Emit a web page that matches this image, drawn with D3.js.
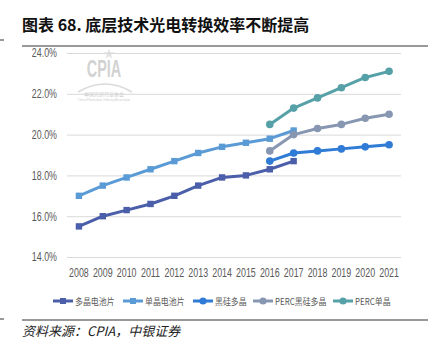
<!DOCTYPE html>
<html>
<head>
<meta charset="utf-8">
<script src="https://cdn.jsdelivr.net/npm/d3@7"></script>
<style>
  body { margin: 0; background: #fff; }
  svg text { font-family: "Liberation Sans", sans-serif; }
</style>
</head>
<body>
<div id="chart"></div>
<script>
// chart data
var years = ["2008","2009","2010","2011","2012","2013","2014","2015","2016","2017","2018","2019","2020","2021"];
var polyCell = [15.5, 16.0, 16.3, 16.6, 17.0, 17.5, 17.9, 18.0, 18.3, 18.7, null, null, null, null];
var monoCell = [17.0, 17.5, 17.9, 18.3, 18.7, 19.1, 19.4, 19.6, 19.8, 20.2, null, null, null, null];
var blackSiPoly = [null, null, null, null, null, null, null, null, 18.7, 19.1, 19.2, 19.3, 19.4, 19.5];
var percBlackSi = [null, null, null, null, null, null, null, null, 19.2, 20.0, 20.3, 20.5, 20.8, 21.0];
var percMono = [null, null, null, null, null, null, null, null, 20.5, 21.3, 21.8, 22.3, 22.8, 23.1];
var seriesNames = ["多晶电池片", "单晶电池片", "黑硅多晶", "PERC黑硅多晶", "PERC单晶"];
var yTicks = [14, 16, 18, 20, 22, 24];

var series = [
    { name: seriesNames[0], values: polyCell, color: "#4a5ea9", marker: "square" },
    { name: seriesNames[1], values: monoCell, color: "#5b9bd5", marker: "square" },
    { name: seriesNames[2], values: blackSiPoly, color: "#2f7bd6", marker: "circle" },
    { name: seriesNames[3], values: percBlackSi, color: "#8797b2", marker: "circle" },
    { name: seriesNames[4], values: percMono, color: "#56a1a8", marker: "circle" }
];

var width = 441, height = 351;
var plot = { left: 67, right: 401, top: 53, bottom: 257 };
var squeeze = 0.74; // narrow axis font

var svg = d3.select("#chart").append("svg")
    .attr("width", width)
    .attr("height", height);

// title
svg.append("text")
    .attr("x", 22).attr("y", 31)
    .style("font-family", "'Noto Sans CJK SC', sans-serif")
    .style("font-weight", "bold")
    .style("font-size", "16px")
    .attr("fill", "#111")
    .text("图表 68. 底层技术光电转换效率不断提高");
svg.append("line")
    .attr("x1", 22).attr("x2", 428).attr("y1", 46).attr("y2", 46)
    .attr("stroke", "#333").attr("stroke-width", 1);
svg.append("line")
    .attr("x1", 0).attr("x2", 4).attr("y1", 40).attr("y2", 40)
    .attr("stroke", "#333").attr("stroke-width", 1);

var x = d3.scaleBand().domain(years).range([plot.left, plot.right]);
var y = d3.scaleLinear().domain([14, 24]).range([plot.bottom, plot.top]);

// watermark
var wm = svg.append("g").attr("opacity", 0.6);
wm.append("text")
    .attr("transform", "translate(104,77) scale(0.6,1)")
    .attr("text-anchor", "middle")
    .style("font-weight", "bold")
    .style("font-size", "24px")
    .attr("fill", "#b5b5b5")
    .text("CPIA");
wm.append("path")
    .attr("d", "M78,92 Q105,76 132,92")
    .attr("fill", "none").attr("stroke", "#c4c4c4").attr("stroke-width", 1.5);
wm.append("path")
    .attr("d", d3.symbol().type(d3.symbolStar).size(35)())
    .attr("transform", "translate(109,54)")
    .attr("fill", "#cfcfcf");
wm.append("text")
    .attr("x", 104).attr("y", 96)
    .attr("text-anchor", "middle")
    .style("font-family", "'Noto Sans CJK SC', sans-serif")
    .style("font-size", "5px")
    .attr("fill", "#999")
    .text("中国光伏行业协会");
wm.append("text")
    .attr("x", 104).attr("y", 101)
    .attr("text-anchor", "middle")
    .style("font-size", "3px")
    .attr("fill", "#aaa")
    .text("China Photovoltaic Industry Association");

// grid + y axis
var yAxis = d3.axisLeft(y)
    .tickValues(yTicks)
    .tickSize(-(plot.right - plot.left))
    .tickPadding(10 / squeeze)
    .tickFormat(function (d) { return d3.format(".1f")(d) + "%"; });

var gy = svg.append("g")
    .attr("transform", "translate(" + plot.left + ",0)")
    .call(yAxis);
gy.select(".domain").remove();
gy.selectAll(".tick line").attr("stroke", "#d9d9d9").attr("stroke-width", 1);
gy.selectAll(".tick text")
    .attr("fill", "#595959")
    .style("font-size", "12px")
    .attr("transform", "scale(" + squeeze + ",1)");

// x axis
var gx = svg.append("g")
    .attr("transform", "translate(0," + plot.bottom + ")")
    .call(d3.axisBottom(x).tickSize(0).tickPadding(11));
gx.select(".domain").remove();
gx.selectAll(".tick text")
    .attr("fill", "#595959")
    .style("font-size", "12px")
    .attr("transform", "scale(" + squeeze + ",1)");

// lines
var line = d3.line()
    .defined(function (d) { return d.v != null; })
    .x(function (d) { return x(d.year) + x.bandwidth() / 2; })
    .y(function (d) { return y(d.v); });

function drawMarker(g, s, cx, cy, sz) {
    if (s.marker === "square") {
        g.append("rect")
            .attr("x", cx - sz).attr("y", cy - sz)
            .attr("width", sz * 2).attr("height", sz * 2)
            .attr("fill", s.color);
    } else {
        g.append("circle")
            .attr("cx", cx).attr("cy", cy).attr("r", sz + 0.6)
            .attr("fill", s.color);
    }
}

series.forEach(function (s) {
    var pts = years.map(function (yr, i) { return { year: yr, v: s.values[i] }; });
    var g = svg.append("g");
    g.append("path")
        .datum(pts)
        .attr("d", line)
        .attr("fill", "none")
        .attr("stroke", s.color)
        .attr("stroke-width", 3)
        .attr("stroke-linejoin", "round");
    pts.filter(function (d) { return d.v != null; }).forEach(function (d) {
        drawMarker(g, s, x(d.year) + x.bandwidth() / 2, y(d.v), 3.2);
    });
});

// legend
var legendX = [53, 123, 193, 253, 333];
var legendY = 301;
series.forEach(function (s, i) {
    var g = svg.append("g").attr("transform", "translate(" + legendX[i] + "," + legendY + ")");
    g.append("line")
        .attr("x1", 0).attr("x2", 20)
        .attr("stroke", s.color).attr("stroke-width", 3);
    drawMarker(g, s, 10, 0, 3);
    g.append("text")
        .attr("transform", "translate(22,3.5) scale(0.88,1)")
        .style("font-family", "'Noto Sans CJK SC', sans-serif")
        .style("font-size", "9px")
        .attr("fill", "#595959")
        .text(s.name);
});

// source
svg.append("line")
    .attr("x1", 22).attr("x2", 428).attr("y1", 320).attr("y2", 320)
    .attr("stroke", "#333").attr("stroke-width", 1);
svg.append("line")
    .attr("x1", 0).attr("x2", 4).attr("y1", 319).attr("y2", 319)
    .attr("stroke", "#333").attr("stroke-width", 1);
svg.append("text")
    .attr("x", 22).attr("y", 336)
    .style("font-family", "'Noto Sans CJK SC', serif")
    .style("font-style", "italic")
    .style("font-size", "13px")
    .attr("fill", "#222")
    .text("资料来源：CPIA，中银证券");
</script>
</body>
</html>
